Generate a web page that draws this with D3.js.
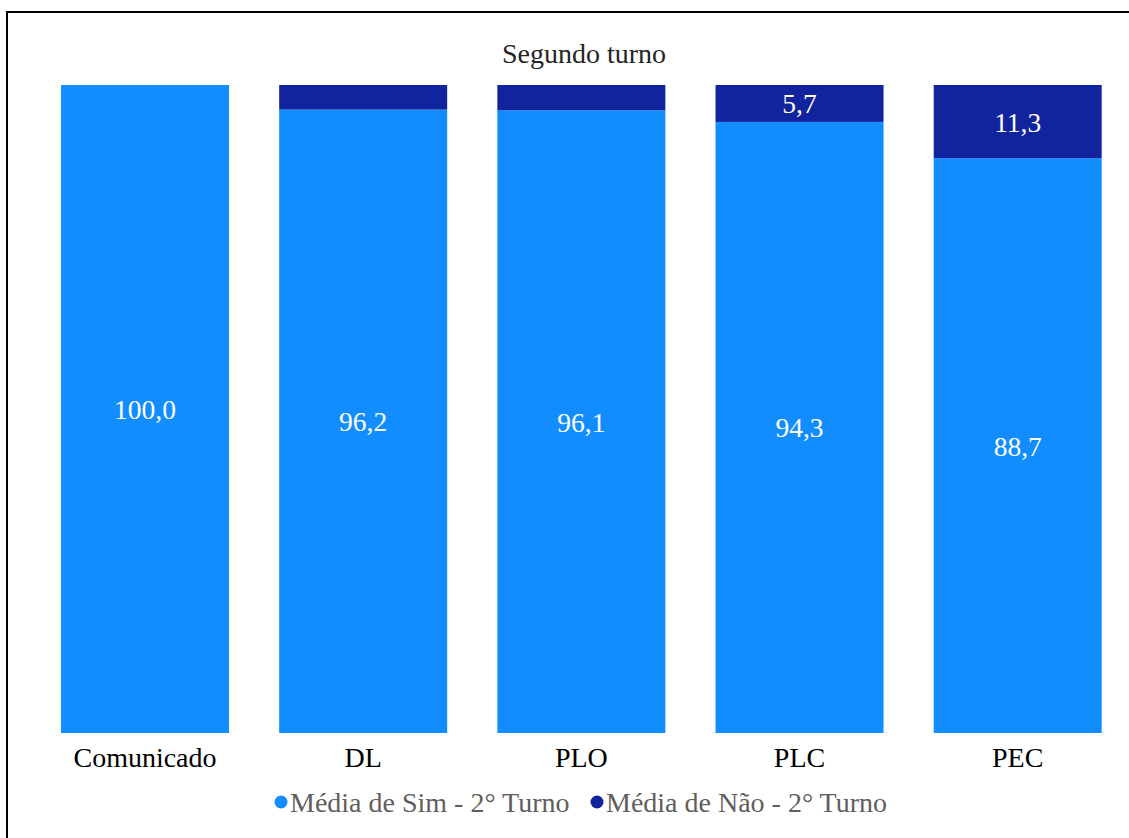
<!DOCTYPE html>
<html>
<head>
<meta charset="utf-8">
<script src="https://cdn.jsdelivr.net/npm/d3@7"></script>
<style>
  html, body { margin: 0; padding: 0; background: #fff; }
  svg { display: block; font-family: "Liberation Serif", "Times New Roman", serif; }
</style>
</head>
<body>
<svg id="chart" width="1129" height="838"></svg>
<script>
// Stacked 100% bars: share of "Sim" and "Não" votes in the second round
const categories = ["Comunicado", "DL", "PLO", "PLC", "PEC"];
const simValues = [100.0, 96.2, 96.1, 94.3, 88.7];
const naoValues = [0.0, 3.8, 3.9, 5.7, 11.3];
const seriesNames = ["Média de Sim - 2° Turno", "Média de Não - 2° Turno"];
const seriesColors = ["#118DFF", "#12239E"];
const title = "Segundo turno";

const svg = d3.select("#chart");
const W = 1129, H = 838;
const FONT = "Liberation Serif, Times New Roman, serif";

// frame
svg.append("rect")
  .attr("x", 7).attr("y", 12)
  .attr("width", W + 10).attr("height", H + 10)
  .attr("fill", "none").attr("stroke", "#000").attr("stroke-width", 2);

const x = d3.scaleBand().domain(categories).range([61, 1101.7]).paddingInner(0.23).paddingOuter(0);
const y = d3.scaleLinear().domain([0, 100]).range([733, 85]);

const rows = categories.map((c, i) => ({ cat: c, sim: simValues[i], nao: naoValues[i] }));
const stacked = d3.stack().keys(["sim", "nao"])(rows);

const fmt = v => d3.format(".1f")(v).replace(".", ",");

stacked.forEach((layer, li) => {
  const g = svg.append("g");
  g.selectAll("rect").data(layer).join("rect")
    .attr("x", d => x(d.data.cat))
    .attr("width", x.bandwidth())
    .attr("y", d => y(d[1]))
    .attr("height", d => y(d[0]) - y(d[1]))
    .attr("fill", seriesColors[li]);
  g.selectAll("text").data(layer.filter(d => (d[1] - d[0]) >= 5)).join("text")
    .attr("x", d => x(d.data.cat) + x.bandwidth() / 2)
    .attr("y", d => (y(d[0]) + y(d[1])) / 2)
    .attr("dy", "0.36em")
    .attr("text-anchor", "middle")
    .attr("fill", "#fff")
    .attr("font-size", 27.5)
    .text(d => fmt(d[1] - d[0]));
});

// title
svg.append("text")
  .attr("x", 584).attr("y", 63)
  .attr("text-anchor", "middle")
  .attr("font-size", 28)
  .attr("fill", "#252423")
  .text(title);

// category axis
const xAxis = svg.append("g").attr("transform", "translate(0,733)")
  .call(d3.axisBottom(x).tickSize(0).tickPadding(0));
xAxis.select(".domain").remove();
xAxis.selectAll("text")
  .attr("font-family", FONT)
  .attr("font-size", 28)
  .attr("fill", "#000")
  .attr("y", 34)
  .attr("dy", null);

// legend
const legend = svg.append("g").attr("transform", "translate(281,802)");
const items = [
  { name: seriesNames[0], color: seriesColors[0], x: 0 },
  { name: seriesNames[1], color: seriesColors[1], x: 316 }
];
items.forEach(it => {
  const g = legend.append("g").attr("transform", `translate(${it.x},0)`);
  g.append("circle").attr("cx", 0).attr("cy", 0).attr("r", 6.5).attr("fill", it.color);
  g.append("text").attr("x", 9).attr("y", 0).attr("dy", "0.35em")
    .attr("font-size", 28).attr("fill", "#605E5C").text(it.name);
});
</script>
</body>
</html>
